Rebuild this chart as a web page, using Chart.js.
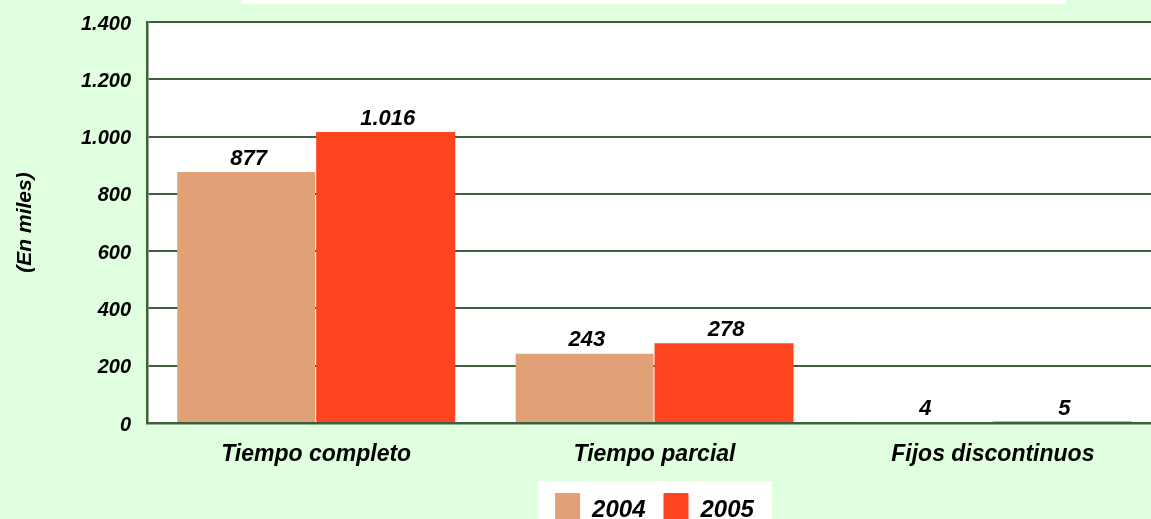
<!DOCTYPE html>
<html>
<head>
<meta charset="utf-8">
<script src="https://cdn.jsdelivr.net/npm/chart.js@4/dist/chart.umd.min.js"></script>
<style>
  html, body { margin: 0; padding: 0; overflow: hidden; background: #dfffdf; }
  #wrap { position: relative; width: 1151px; height: 519px; overflow: hidden; }
  canvas { display: block; }
</style>
</head>
<body>
<div id="wrap"><canvas id="c" width="1162" height="538"></canvas></div>
<script>
const categories = ["Tiempo completo", "Tiempo parcial", "Fijos discontinuos"];
const seriesNames = ["2004", "2005"];
const values2004 = [877, 243, 4];
const values2005 = [1016, 278, 5];
const yTickValues = [0, 200, 400, 600, 800, 1000, 1200, 1400];
const yTitle = "(En miles)";

const FONT = "'Liberation Sans', Arial, sans-serif";
const GRID = "#3e5f3c";
const BG = "#dfffdf";

function fmt(v) {
  return String(v).replace(/\B(?=(\d{3})+(?!\d))/g, ".");
}

const decor = {
  id: "decor",
  beforeDraw(chart) {
    const ctx = chart.ctx;
    const a = chart.chartArea;
    ctx.save();
    ctx.fillStyle = BG;
    ctx.fillRect(0, 0, chart.width, chart.height);
    ctx.fillStyle = "#ffffff";
    ctx.fillRect(a.left, a.top, a.right - a.left, a.bottom - a.top);
    ctx.fillRect(241, 0, 825, 4);
    const lg = chart.legend;
    if (lg && lg.legendHitBoxes && lg.legendHitBoxes.length) {
      const hb = lg.legendHitBoxes;
      const l = hb[0].left - 18;
      const last = hb[hb.length - 1];
      const r = last.left + last.width + 18;
      ctx.fillRect(l, lg.top + 6, r - l, chart.height - lg.top - 6);
    }
    ctx.restore();
  }
};

const valueLabels = {
  id: "valueLabels",
  afterDatasetsDraw(chart) {
    const ctx = chart.ctx;
    ctx.save();
    ctx.font = "italic bold 22px " + FONT;
    ctx.fillStyle = "#000";
    ctx.textAlign = "center";
    ctx.textBaseline = "alphabetic";
    chart.data.datasets.forEach((ds, di) => {
      const meta = chart.getDatasetMeta(di);
      meta.data.forEach((bar, i) => {
        ctx.fillText(fmt(ds.data[i]), bar.x + 2, bar.y - 7);
      });
    });
    ctx.restore();
  }
};

new Chart(document.getElementById("c"), {
  type: "bar",
  data: {
    labels: categories,
    datasets: [
      {
        label: seriesNames[0],
        data: values2004,
        backgroundColor: "#e0a176",
        borderColor: "rgba(0,0,0,0)",
        borderWidth: { left: 0, right: 1, top: 0, bottom: 0 },
        borderSkipped: false
      },
      {
        label: seriesNames[1],
        data: values2005,
        backgroundColor: "#fe4520",
        borderWidth: 0
      }
    ]
  },
  options: {
    responsive: false,
    animation: false,
    devicePixelRatio: 1,
    layout: { padding: { top: 22, left: 0, right: 0, bottom: 0 } },
    datasets: { bar: { barPercentage: 1, categoryPercentage: 0.822 } },
    plugins: {
      legend: {
        display: true,
        position: "bottom",
        fullSize: false,
        align: "center",
        labels: {
          boxWidth: 25,
          boxHeight: 35,
          padding: 18,
          color: "#000",
          font: { family: FONT, size: 24, weight: "bold", style: "italic" }
        }
      },
      tooltip: { enabled: false }
    },
    scales: {
      x: {
        afterFit(scale) { scale.height = 52; scale.paddingLeft = 0; scale.paddingRight = 0; },
        grid: { display: false, drawTicks: false },
        border: { display: true, color: GRID, width: 2.5 },
        ticks: {
          padding: 18,
          color: "#000",
          font: { family: FONT, size: 23, weight: "bold", style: "italic" }
        }
      },
      y: {
        min: 0,
        max: 1400,
        afterFit(scale) { scale.width = 147; scale.paddingTop = 0; scale.paddingBottom = 0; },
        afterBuildTicks(scale) { scale.ticks = yTickValues.map(v => ({ value: v })); },
        grid: { color: GRID, lineWidth: 2, drawTicks: false },
        border: { display: true, color: GRID, width: 2.5 },
        ticks: {
          padding: 16,
          labelOffset: 2,
          color: "#000",
          font: { family: FONT, size: 20, weight: "bold", style: "italic" },
          callback: (v) => fmt(v)
        },
        title: {
          display: true,
          text: yTitle,
          color: "#000",
          padding: { top: 13, bottom: 0 },
          font: { family: FONT, size: 21, weight: "bold", style: "italic" }
        }
      }
    }
  },
  plugins: [decor, valueLabels]
});
</script>
</body>
</html>
